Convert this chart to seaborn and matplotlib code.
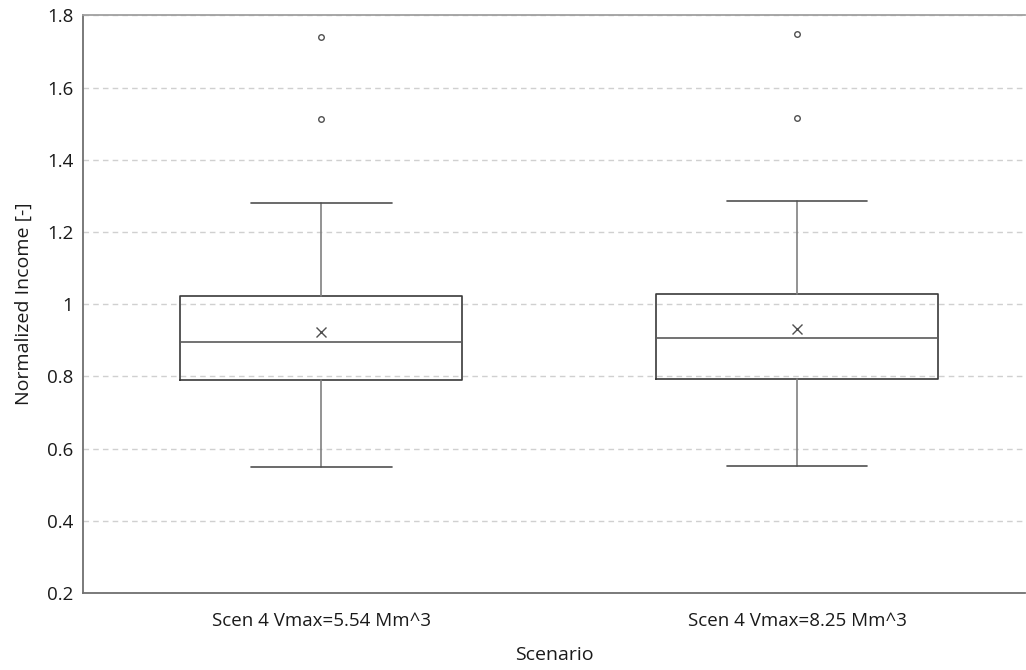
import matplotlib
matplotlib.use("Agg")
import matplotlib.pyplot as plt
import seaborn as sns
import numpy as np

# ---- data ----
scenarios = ["Scen 4 Vmax=5.54 Mm^3", "Scen 4 Vmax=8.25 Mm^3"]
whisker_low = [0.549, 0.551]
q1 = [0.791, 0.793]
median = [0.894, 0.906]
q3 = [1.024, 1.029]
whisker_high = [1.279, 1.285]
means = [0.922, 0.930]
outliers = [[1.512, 1.739], [1.517, 1.748]]
y_ticks = [0.2, 0.4, 0.6, 0.8, 1.0, 1.2, 1.4, 1.6, 1.8]
y_tick_labels = ["0.2", "0.4", "0.6", "0.8", "1", "1.2", "1.4", "1.6", "1.8"]

sns.set_theme(style="white")
plt.rcParams["font.family"] = ["Open Sans", "DejaVu Sans"]

fig = plt.figure(figsize=(10.26, 6.70), dpi=100)
ax = fig.add_axes([0.081, 0.115, 0.918, 0.862])

stats = []
for i, name in enumerate(scenarios):
    stats.append(dict(label=name, whislo=whisker_low[i], q1=q1[i], med=median[i],
                      q3=q3[i], whishi=whisker_high[i], mean=means[i],
                      fliers=np.array(outliers[i])))

ax.bxp(stats, positions=range(len(scenarios)), widths=0.592, showmeans=True,
       boxprops=dict(color="#3a3a3a", linewidth=1.2),
       medianprops=dict(color="#5a5a5a", linewidth=1.2),
       whiskerprops=dict(color="#808080", linewidth=1.2),
       capprops=dict(color="#505050", linewidth=1.2),
       meanprops=dict(marker="x", markeredgecolor="#505050", markersize=7,
                      markeredgewidth=1.0, linestyle="none"),
       flierprops=dict(marker="o", markerfacecolor="white", markeredgecolor="#505050",
                       markersize=4, markeredgewidth=1.0, linestyle="none"))

ax.set_xlim(-0.5, 1.479)
ax.set_ylim(0.2, 1.8)
ax.set_yticks(y_ticks)
ax.set_yticklabels(y_tick_labels)
ax.set_xticks(range(len(scenarios)))
ax.set_xticklabels(scenarios)

ax.yaxis.grid(True, linestyle=(0, (4, 3)), color="#d0d0d0", linewidth=1.0)
ax.xaxis.grid(False)
ax.set_axisbelow(True)

for s in ["left", "bottom"]:
    ax.spines[s].set_color("#707070")
    ax.spines[s].set_linewidth(1.3)
ax.spines["top"].set_color("#a0a0a0")
ax.spines["top"].set_linewidth(1.3)
ax.spines["right"].set_visible(False)

ax.tick_params(axis="both", length=0, labelsize=13.5, colors="#1a1a1a")
ax.tick_params(axis="y", pad=7)
ax.tick_params(axis="x", pad=14)
ax.set_xlabel("Scenario", fontsize=14, color="#1a1a1a", labelpad=11)
ax.set_ylabel("Normalized Income [-]", fontsize=14, color="#1a1a1a", labelpad=10)

fig.savefig("out.png", dpi=100, facecolor="white")
